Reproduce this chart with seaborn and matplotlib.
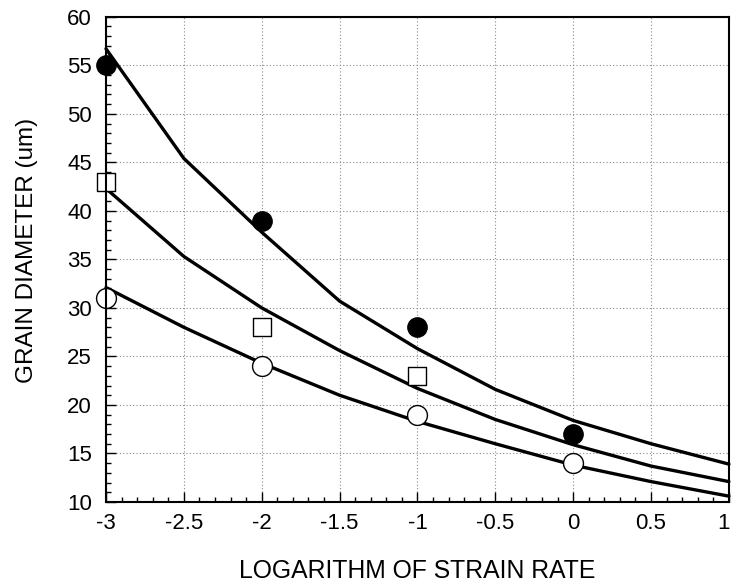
import numpy as np
import pandas as pd
import matplotlib
matplotlib.use('Agg')
import matplotlib.pyplot as plt
from matplotlib.ticker import MultipleLocator
from matplotlib.transforms import ScaledTranslation
import seaborn as sns

# fitted curves (at 0.5 steps)
curve_x = [-3, -2.5, -2, -1.5, -1, -0.5, 0, 0.5, 1]
curve_top = [56.7, 45.4, 37.8, 30.7, 25.8, 21.6, 18.4, 16.0, 13.9]
curve_mid = [42.3, 35.3, 30.0, 25.6, 21.7, 18.5, 15.9, 13.7, 12.1]
curve_bot = [32.1, 28.0, 24.3, 21.0, 18.3, 16.0, 13.8, 12.1, 10.6]

# measured points
circle_x = [-3, -2, -1, 0]
filled_circles = [55, 39, 28, 17]
open_circles = [31, 24, 19, 14]
square_x = [-3, -2, -1]
open_squares = [43, 28, 23]

x_ticks = [-3, -2.5, -2, -1.5, -1, -0.5, 0, 0.5, 1]
x_ticklabels = ['-3', '-2.5', '-2', '-1.5', '-1', '-0.5', '0', '0.5', '1']

sns.set_style('ticks')
plt.rcParams['font.family'] = ['Liberation Sans', 'DejaVu Sans']
plt.rcParams.update({'text.color': 'black', 'axes.labelcolor': 'black',
                     'xtick.color': 'black', 'ytick.color': 'black'})

fig = plt.figure(figsize=(7.32, 5.82), dpi=100)
ax = fig.add_axes([0.1448, 0.1375, 0.851, 0.8337])

for ys in (curve_top, curve_mid, curve_bot):
    sns.lineplot(x=curve_x, y=ys, ax=ax, color='black', linewidth=2.4,
                 zorder=2, clip_on=False)

sns.scatterplot(x=square_x, y=open_squares, ax=ax, marker='s', s=12.5**2,
                facecolor='white', edgecolor='black', linewidth=1.0,
                zorder=2.3, clip_on=False)
sns.scatterplot(x=circle_x, y=open_circles, ax=ax, marker='o', s=14.3**2,
                facecolor='white', edgecolor='black', linewidth=1.0,
                zorder=2.3, clip_on=False)
sns.scatterplot(x=circle_x, y=filled_circles, ax=ax, marker='o', s=13.9**2,
                facecolor='black', edgecolor='black', linewidth=1.0,
                zorder=2.4, clip_on=False)

ax.set_xticks(x_ticks)
ax.set_xticklabels(x_ticklabels)
ax.xaxis.set_minor_locator(MultipleLocator(0.1))
ax.yaxis.set_major_locator(MultipleLocator(5))
ax.yaxis.set_minor_locator(MultipleLocator(1))
ax.set_xlim(-3, 1)
ax.set_ylim(10, 60)

ax.grid(True, which='major', color='#8a8a8a', linestyle=(0, (1, 2)),
        linewidth=0.8)
ax.set_axisbelow(True)

ax.tick_params(which='both', direction='in', top=False, right=False,
               color='black', width=1, labelcolor='black')
ax.tick_params(which='major', length=7)
ax.tick_params(which='minor', length=3.5)
ax.tick_params(axis='x', which='major', labelsize=16, pad=8)
ax.tick_params(axis='y', which='major', labelsize=16, pad=10)

# keep the "1" at the right edge inside the canvas
last = ax.get_xticklabels()[-1]
last.set_transform(last.get_transform() + ScaledTranslation(-4 / 72, 0, fig.dpi_scale_trans))

for sp in ax.spines.values():
    sp.set_visible(True)
    sp.set_linewidth(1.5)
    sp.set_color('black')

ax.set_xlabel('LOGARITHM OF STRAIN RATE', fontsize=17.8, color='black')
ax.set_ylabel('GRAIN DIAMETER (um)', fontsize=17.5, color='black')
ax.xaxis.set_label_coords(0.5, -0.1185)
ax.yaxis.set_label_coords(-0.109, 0.519)

fig.savefig('out.png', dpi=100)
